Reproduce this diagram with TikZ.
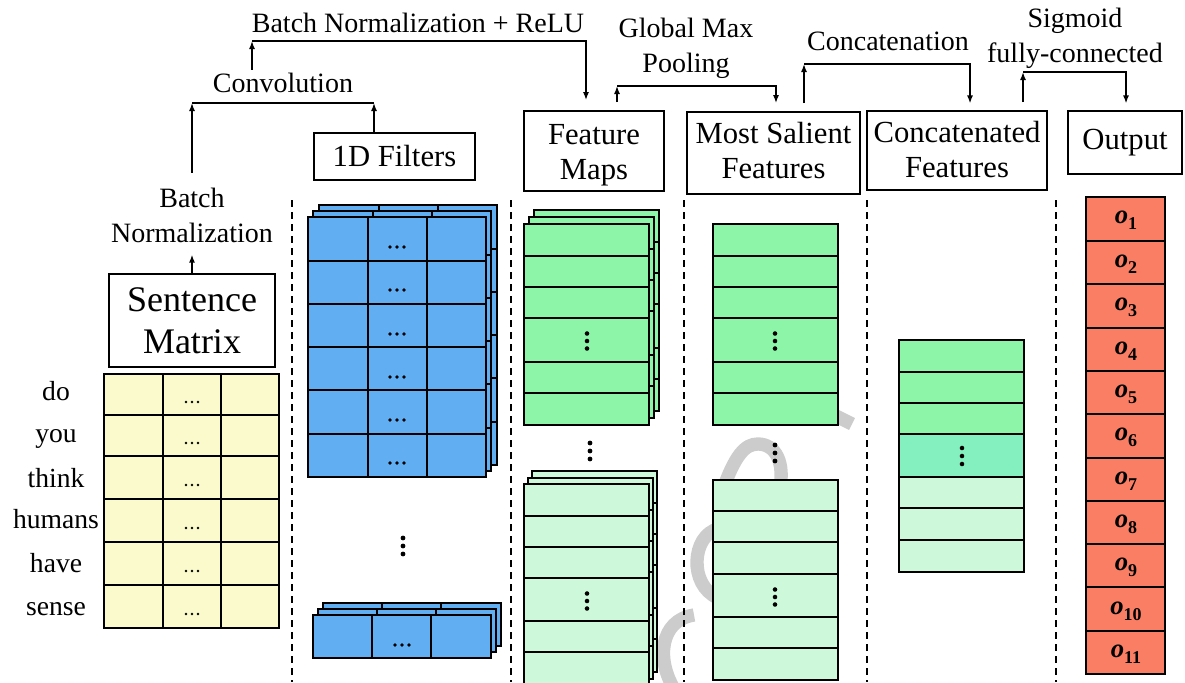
\documentclass[tikz,border=0pt]{standalone}
\usepackage{fontspec}
\setmainfont{Liberation Serif}
\usetikzlibrary{arrows.meta}

\definecolor{wordyellow}{RGB}{250,250,204}
\definecolor{filtblue}{RGB}{98,174,242}
\definecolor{mapgreen}{RGB}{140,245,168}
\definecolor{mappale}{RGB}{205,249,218}
\definecolor{mapmint}{RGB}{132,240,192}
\definecolor{outsalmon}{RGB}{249,126,100}
\definecolor{markgray}{RGB}{204,204,204}

% one grid layer: x0 y0 x1 y1 fill row-lines
\newcommand\layer[6]{%
  \fill[#5] (#1,#2) rectangle (#3,#4);
  \foreach \r in {#6} {\draw[gridline] (#1,\r) -- (#3,\r);}
  \draw[gridline] (#1,#2) rectangle (#3,#4);}
% vertical cell separators: y0 y1 column-lines
\newcommand\vlines[3]{\foreach \c in {#3} {\draw[gridline] (\c,#1) -- (\c,#2);}}
% three dots in a row / in a column: x y radius spacing
\newcommand\dotsrow[4]{\foreach \k in {-1,0,1} {\fill ({#1+\k*#4},#2) circle (#3);}}
\newcommand\dotscol[4]{\foreach \k in {-1,0,1} {\fill (#1,{#2+\k*#4}) circle (#3);}}
% two centred lines, moved down by #1 inside their box
\newcommand\boxtext[3]{\raisebox{#1}[\height][\depth]{\begin{tabular}{@{}c@{}}#2\\#3\end{tabular}}}
% output unit name
\newcommand\unitname[1]{{\bfseries\itshape o}\raisebox{-4.5pt}{\fontsize{13.5}{14}\selectfont\bfseries #1}}

\begin{document}
\begin{tikzpicture}[x=0.75pt,y=-0.75pt,
  gridline/.style={line width=1.4pt},
  conn/.style={line width=1.1pt},
  arr/.style={-{Latex[length=6pt,width=4.5pt]}},
  sepline/.style={line width=1.3pt, dash pattern=on 5.25pt off 3.75pt},
  boxnode/.style={draw, line width=1.3pt, inner sep=0pt,
    font=\fontsize{23}{26}\selectfont},
  lab/.style={inner sep=0pt, align=center, font=\fontsize{21}{26.25}\selectfont},
  word/.style={inner sep=0pt, anchor=base, font=\fontsize{20.7}{24}\selectfont},
  outlab/.style={inner sep=0pt, font=\fontsize{20}{22}\selectfont}]

\useasboundingbox (0,0) rectangle (1185,682);
\clip (0,0) rectangle (1185,682);

% light gray strokes in the background
\begin{scope}[color=markgray, line width=10pt]
  \draw (822,409) -- (852,424);
  \draw (722,492) .. controls (735,455) and (745,444) .. (758,444)
        .. controls (775,444) and (786,462) .. (779,492);
  \draw (718,529) .. controls (692,535) and (688,585) .. (718,598);
  \draw (694,615) .. controls (660,620) and (655,660) .. (676,692);
\end{scope}

% dashed column separators
\foreach \x in {292,511,684,867,1056} {\draw[sepline] (\x,200) -- (\x,682);}

% sentence matrix
\layer{104}{374}{279}{628}{wordyellow}{415,456,499,542,585}
\vlines{374}{628}{163,221}
\foreach \y in {402,443,485,528,571,614} {\dotsrow{192}{\y}{1.1pt}{6}}
\foreach \w/\b [count=\i] in {do/400,you/442,think/487,humans/528,have/572,sense/615}
  {\node[word] (w\i) at (56,\b) {\w};}

% stack of 1D filters
\foreach \dx/\dy in {11/-12,5/-6,0/0} {
  \begin{scope}[shift={(\dx,\dy)}]
    \layer{308}{217}{486}{477}{filtblue}{261,304,347,390,434}
    \vlines{217}{477}{368,427}
  \end{scope}}
\foreach \y in {247,290,334,377,420,463} {\dotsrow{397}{\y}{1.4pt}{7}}
\dotscol{403}{546}{1.8pt}{8}
\foreach \dx/\dy in {10/-12,5/-6,0/0} {
  \begin{scope}[shift={(\dx,\dy)}]
    \fill[filtblue] (313,615) rectangle (491,658);
    \vlines{615}{658}{372,431}
    \draw[gridline] (313,615) rectangle (491,658);
  \end{scope}}
\dotsrow{402}{645}{1.4pt}{7}

% feature maps
\foreach \dx/\dy in {10/-14,5/-7,0/0} {
  \begin{scope}[shift={(\dx,\dy)}]
    \layer{524}{224}{649}{425}{mapgreen}{256,287,318,362,393}
  \end{scope}}
\dotscol{587}{341}{1.7pt}{7.5}
\dotscol{590}{451}{1.8pt}{8}
\foreach \dx/\dy in {8/-13,4/-6,0/0} {
  \begin{scope}[shift={(\dx,\dy)}]
    \layer{524}{484}{649}{685}{mappale}{516,547,578,621,652}
  \end{scope}}
\dotscol{587}{601}{1.7pt}{7.5}

% most salient features
\layer{713}{224}{838}{425}{mapgreen}{256,287,318,362,393}
\dotscol{775}{341}{1.7pt}{7.5}
\dotscol{775}{453}{1.8pt}{8}
\layer{713}{480}{838}{680}{mappale}{511,542,574,617,648}
\dotscol{775}{597}{1.7pt}{7.5}

% concatenated features
\fill[mapgreen] (899,340) rectangle (1024,434);
\fill[mapmint] (899,434) rectangle (1024,477);
\fill[mappale] (899,477) rectangle (1024,572);
\foreach \r in {372,403,434,477,508,540} {\draw[gridline] (899,\r) -- (1024,\r);}
\draw[gridline] (899,340) rectangle (1024,572);
\dotscol{962}{456}{1.7pt}{8}

% output units
\layer{1086}{197}{1165}{674}{outsalmon}{241,284,328,371,414,458,501,544,587,631}
\foreach \i in {1,...,11}
  {\node[outlab] (o\i) at (1126,{197+43.36*(\i-0.5)+2}) {\unitname{\i}};}

% titled boxes
\node[boxnode, minimum width=124.5pt, minimum height=69.75pt,
  font=\fontsize{27}{31.5}\selectfont] (sentbox) at (192,320.5) {\boxtext{-2.5pt}{Sentence}{Matrix}};
\node[boxnode, minimum width=120.75pt, minimum height=35.25pt] (filtbox) at (394.5,156.5) {1D Filters};
\node[boxnode, minimum width=105pt, minimum height=60pt] (fmbox) at (594,151) {\boxtext{-3pt}{Feature}{Maps}};
\node[boxnode, minimum width=129.75pt, minimum height=61.5pt] (msbox) at (773.5,153) {\boxtext{-1pt}{Most Salient}{Features}};
\node[boxnode, minimum width=135pt, minimum height=59.25pt] (cfbox) at (957,150.5) {\boxtext{-2pt}{Concatenated}{Features}};
\node[boxnode, minimum width=85.5pt, minimum height=47.25pt] (outbox) at (1125,142.5) {Output};

% operation labels
\node[lab] (bnlab) at (192,215) {Batch\\Normalization};
\node[lab, anchor=base] (convlab) at (283,92) {Convolution};
\node[lab, anchor=base] (bnrelu) at (418,32) {Batch Normalization + ReLU};
\node[lab] (gmplab) at (686,48) {Global Max\\Pooling};
\node[lab, anchor=base] (catlab) at (888,50) {Concatenation};
\node[lab] (siglab) at (1075,38) {Sigmoid\\fully-connected};

% junction points of the connectors
\coordinate (j1) at (192,103);
\coordinate (j2) at (374,103);
\coordinate (j3) at (252,41);
\coordinate (j4) at (586,41);
\coordinate (g1) at (617,86);
\coordinate (g2) at (776,86);
\coordinate (c1) at (804,64);
\coordinate (c2) at (970,64);
\coordinate (s1) at (1023,72);
\coordinate (s2) at (1126,72);

% connectors
\draw[conn,arr,shorten >=9pt] (sentbox.north) -- (bnlab.south);
\draw[conn,arr,shorten <=11pt] (bnlab.north) -- (j1);
\draw[conn,arr] (filtbox.north -| j2) -- (j2);
\draw[conn] (j1) -- (j2);
\draw[conn,arr,shorten <=2pt] (convlab.north -| j3) -- (j3);
\draw[conn,arr,shorten >=7.5pt] (j3) -- (j4) -- (fmbox.north -| j4);
\draw[conn,arr,shorten <=6pt] (fmbox.north -| g1) -- (g1);
\draw[conn,arr,shorten >=6pt] (g1) -- (g2) -- (msbox.north -| g2);
\draw[conn,arr,shorten <=6pt] (msbox.north -| c1) -- (c1);
\draw[conn,arr,shorten >=5pt] (c1) -- (c2) -- (cfbox.north -| c2);
\draw[conn,arr,shorten <=6pt] (cfbox.north -| s1) -- (s1);
\draw[conn,arr,shorten >=5pt] (s1) -- (s2) -- (outbox.north -| s2);
\end{tikzpicture}
\end{document}
